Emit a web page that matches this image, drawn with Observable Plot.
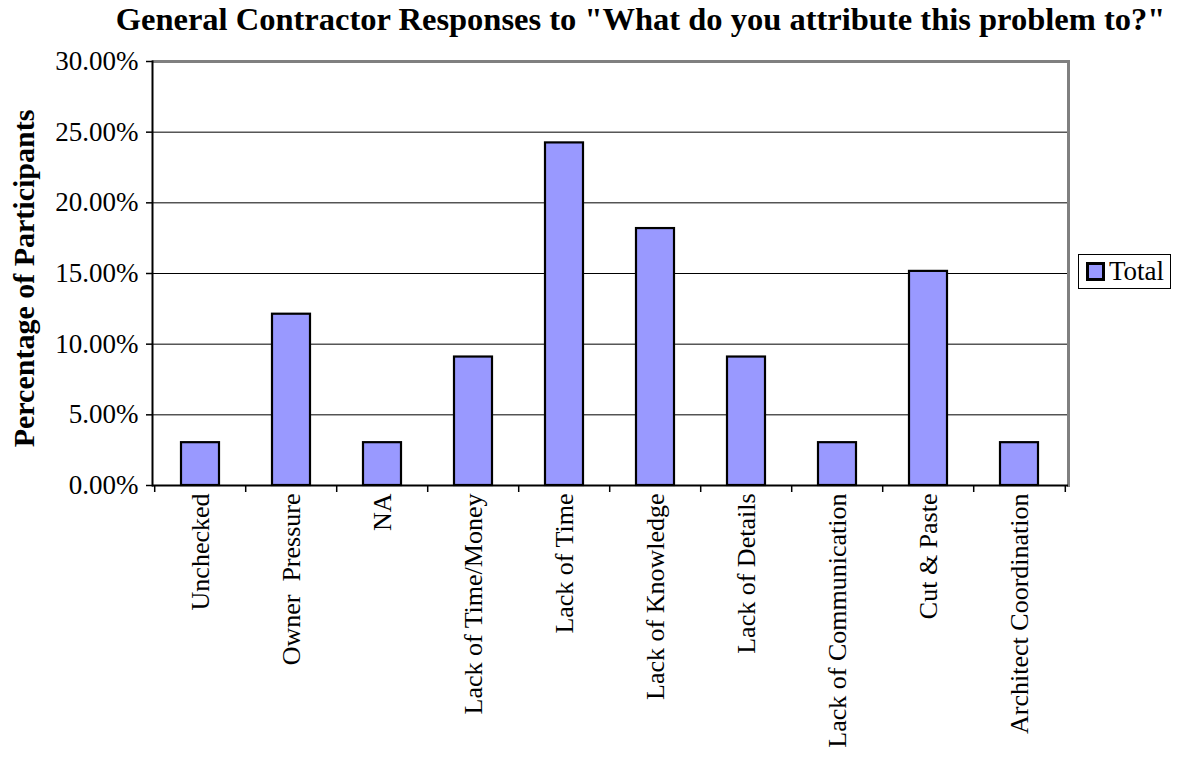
<!DOCTYPE html>
<html><head><meta charset="utf-8">
<script src="https://cdn.jsdelivr.net/npm/d3@7"></script>
<script src="https://cdn.jsdelivr.net/npm/@observablehq/plot@0.6"></script>
<style>
body{margin:0;background:#fff;font-family:"Liberation Serif","Times New Roman",serif;}
#wrap{position:relative;width:1181px;height:758px;overflow:hidden;}
#title{position:absolute;left:100px;width:1081px;top:1px;height:38px;text-align:center;font-weight:bold;font-size:32.5px;line-height:36px;color:#000;white-space:nowrap;}
#chart{position:absolute;left:0;top:40px;}
#legend{position:absolute;left:1078px;top:254px;width:91px;height:33px;border:1px solid #000;background:#fff;font-size:27px;}
#legend .sw{position:absolute;left:7px;top:7px;width:13px;height:13px;background:#9999ff;border:3px solid #000;}
#legend .lb{position:absolute;left:30px;top:0px;line-height:32px;}
</style></head>
<body>
<div id="wrap">
  <div id="title">General Contractor Responses to "What do you attribute this problem to?"</div>
  <div id="chart"></div>
  <div id="legend"><div class="sw"></div><div class="lb">Total</div></div>
</div>
<script>
const categories = ["Unchecked","Owner  Pressure","NA","Lack of Time/Money","Lack of Time","Lack of Knowledge","Lack of Details","Lack of Communication","Cut & Paste","Architect Coordination"];
const values = [3.03, 12.12, 3.03, 9.09, 24.24, 18.18, 9.09, 3.03, 15.15, 3.03];
const yTicks = [0, 5, 10, 15, 20, 25, 30];
const yLabel = "Percentage of Participants";

const data = categories.map((c, i) => ({category: c, value: values[i]}));
const lastCat = [categories[categories.length - 1]];

const W = 1181, H = 718, ML = 152, MR = 113, MT = 21, MB = 273;
const step = (W - ML - MR) / categories.length;

const chart = Plot.plot({
  width: W, height: H,
  marginLeft: ML, marginRight: MR, marginTop: MT, marginBottom: MB,
  style: {fontFamily: '"Liberation Serif","Times New Roman",serif', color: "#000", background: "#fff"},
  x: {domain: categories, paddingInner: 0.58, paddingOuter: 0.29, label: null},
  y: {domain: [0, 30], label: null},
  marks: [
    Plot.ruleY(yTicks.slice(1, -1), {stroke: "#000", strokeWidth: 1}),
    Plot.ruleY([30], {stroke: "#808080", strokeWidth: 3}),
    Plot.frame({anchor: "right", stroke: "#808080", strokeWidth: 3}),
    Plot.barY(data, {x: "category", y: "value", fill: "#9999ff", stroke: "#000", strokeWidth: 2.2}),
    Plot.ruleY([0], {stroke: "#000", strokeWidth: 2}),
    Plot.frame({anchor: "left", stroke: "#000", strokeWidth: 2}),
    Plot.ruleX(categories, {x: d => d, y1: 0, y2: 0, insetTop: 0, insetBottom: -7, dx: -step / 2, stroke: "#000", strokeWidth: 1.5}),
    Plot.ruleX(lastCat, {x: d => d, y1: 0, y2: 0, insetTop: 0, insetBottom: -7, dx: step / 2, stroke: "#000", strokeWidth: 1.5}),
    Plot.axisY({ticks: yTicks, tickSize: 6, tickPadding: 8, fontSize: 27, tickFormat: d => d.toFixed(2) + "%", label: null, strokeWidth: 1.5}),
    Plot.axisX({tickRotate: -90, tickSize: 0, tickPadding: 8, fontSize: 26, label: null, style: "white-space:pre"}),
    Plot.text([yLabel], {frameAnchor: "left", textAnchor: "middle", rotate: -90, dx: -128, dy: 5, fontWeight: "bold", fontSize: 30, fill: "#000"})
  ]
});
document.getElementById("chart").appendChild(chart);
</script>
</body></html>
